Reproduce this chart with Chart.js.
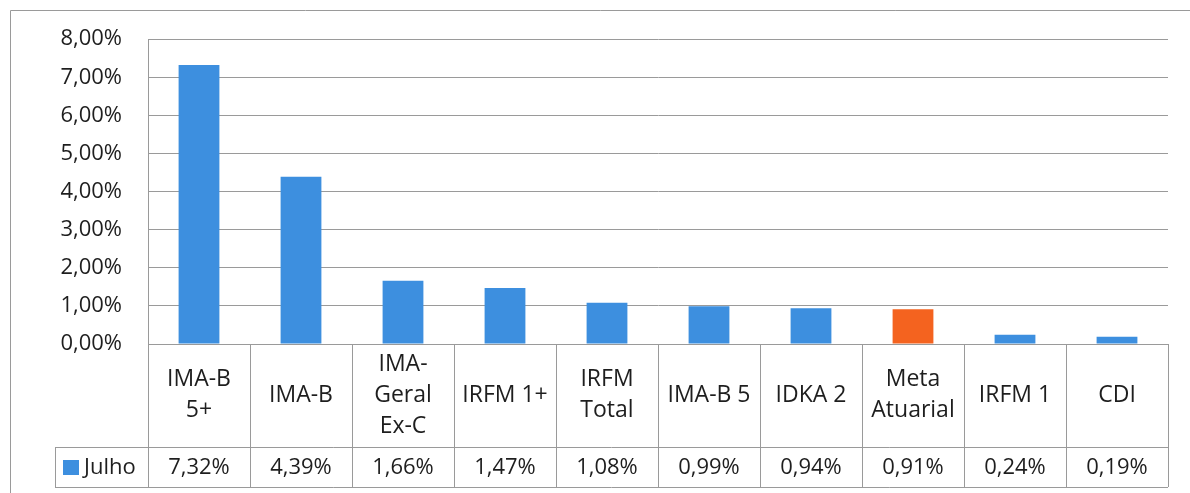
<!DOCTYPE html>
<html>
<head>
<meta charset="utf-8">
<script src="https://cdn.jsdelivr.net/npm/chart.js@4/dist/chart.umd.min.js"></script>
<style>
  html, body { margin: 0; padding: 0; background: #fff; }
  #wrap { width: 1190px; height: 493px; }
</style>
</head>
<body>
<div id="wrap"><canvas id="chart" width="1190" height="493"></canvas></div>
<script>
// data
const categories = [
  ["IMA-B", "5+"],
  ["IMA-B"],
  ["IMA-", "Geral", "Ex-C"],
  ["IRFM 1+"],
  ["IRFM", "Total"],
  ["IMA-B 5"],
  ["IDKA 2"],
  ["Meta", "Atuarial"],
  ["IRFM 1"],
  ["CDI"],
];
const julho = [7.32, 4.39, 1.66, 1.47, 1.08, 0.99, 0.94, 0.91, 0.24, 0.19];
const seriesName = "Julho";
const highlighted = "Meta Atuarial";
const yTicks = [0, 1, 2, 3, 4, 5, 6, 7, 8];

const BLUE = "#3d8fdf";
const ORANGE = "#f4631f";
const LINE = "#9a9a9a";
const TEXT = "#1e1e1e";
const FONT = "'Open Sans', Lato, sans-serif";

function pct(v) {
  return v.toFixed(2).replace(".", ",") + "%";
}

const barColors = categories.map((c) =>
  c.join(" ") === highlighted ? ORANGE : BLUE
);

// draws frame + data table under the plot
const tablePlugin = {
  id: "dataTable",
  beforeDraw(chart) {
    const ctx = chart.ctx;
    ctx.save();
    ctx.strokeStyle = LINE;
    ctx.lineWidth = 1;
    ctx.beginPath();
    ctx.moveTo(10.5, chart.height);
    ctx.lineTo(10.5, 10.5);
    ctx.lineTo(chart.width, 10.5);
    ctx.stroke();
    ctx.restore();
  },
  afterDraw(chart) {
    const ctx = chart.ctx;
    const x = chart.scales.x;
    const area = chart.chartArea;
    const colW = (area.right - area.left) / categories.length;
    const top = area.bottom;
    const mid = top + 103;
    const bottom = mid + 40;
    const legendLeft = 55;

    ctx.save();
    ctx.strokeStyle = LINE;
    ctx.lineWidth = 1;
    ctx.beginPath();
    for (let i = 0; i <= categories.length; i++) {
      const px = Math.round(area.left + i * colW) + 0.5;
      ctx.moveTo(px, top);
      ctx.lineTo(px, bottom);
    }
    ctx.moveTo(legendLeft + 0.5, mid);
    ctx.lineTo(legendLeft + 0.5, bottom);
    ctx.moveTo(legendLeft, mid + 0.5);
    ctx.lineTo(area.right, mid + 0.5);
    ctx.moveTo(legendLeft, bottom + 0.5);
    ctx.lineTo(area.right, bottom + 0.5);
    ctx.stroke();

    ctx.fillStyle = TEXT;
    ctx.textAlign = "center";
    ctx.textBaseline = "middle";
    const lh = 31;
    categories.forEach((lines, i) => {
      const cx = x.getPixelForValue(i);
      const cy = top + 51;
      const y0 = cy - ((lines.length - 1) * lh) / 2;
      ctx.font = "23px " + FONT;
      lines.forEach((t, j) => ctx.fillText(t, cx, y0 + j * lh));
      ctx.font = "22px " + FONT;
      ctx.fillText(pct(julho[i]), cx, mid + 21);
    });

    // legend key
    ctx.fillStyle = BLUE;
    ctx.fillRect(63, mid + 13, 16, 15);
    ctx.fillStyle = TEXT;
    ctx.textAlign = "left";
    ctx.font = "22px " + FONT;
    ctx.fillText(seriesName, 84, mid + 21);
    ctx.restore();
  },
};

new Chart(document.getElementById("chart"), {
  type: "bar",
  data: {
    labels: categories.map((c) => c.join(" ")),
    datasets: [
      {
        label: seriesName,
        data: julho,
        backgroundColor: barColors,
        barPercentage: 0.4,
        categoryPercentage: 1,
      },
    ],
  },
  options: {
    responsive: false,
    animation: false,
    layout: { padding: { left: 0, top: 38, right: 22, bottom: 149 } },
    plugins: {
      legend: { display: false },
      tooltip: { enabled: false },
    },
    scales: {
      x: { display: false },
      y: {
        min: yTicks[0],
        max: yTicks[yTicks.length - 1],
        afterFit(scale) {
          scale.width = 148;
        },
        afterBuildTicks(scale) {
          scale.ticks = yTicks.map((v) => ({ value: v }));
        },
        grid: { color: LINE, drawTicks: false },
        border: { color: LINE },
        ticks: {
          padding: 26,
          color: TEXT,
          font: { family: FONT, size: 22 },
          callback: (v) => pct(v),
        },
      },
    },
  },
  plugins: [tablePlugin],
});
</script>
</body>
</html>
